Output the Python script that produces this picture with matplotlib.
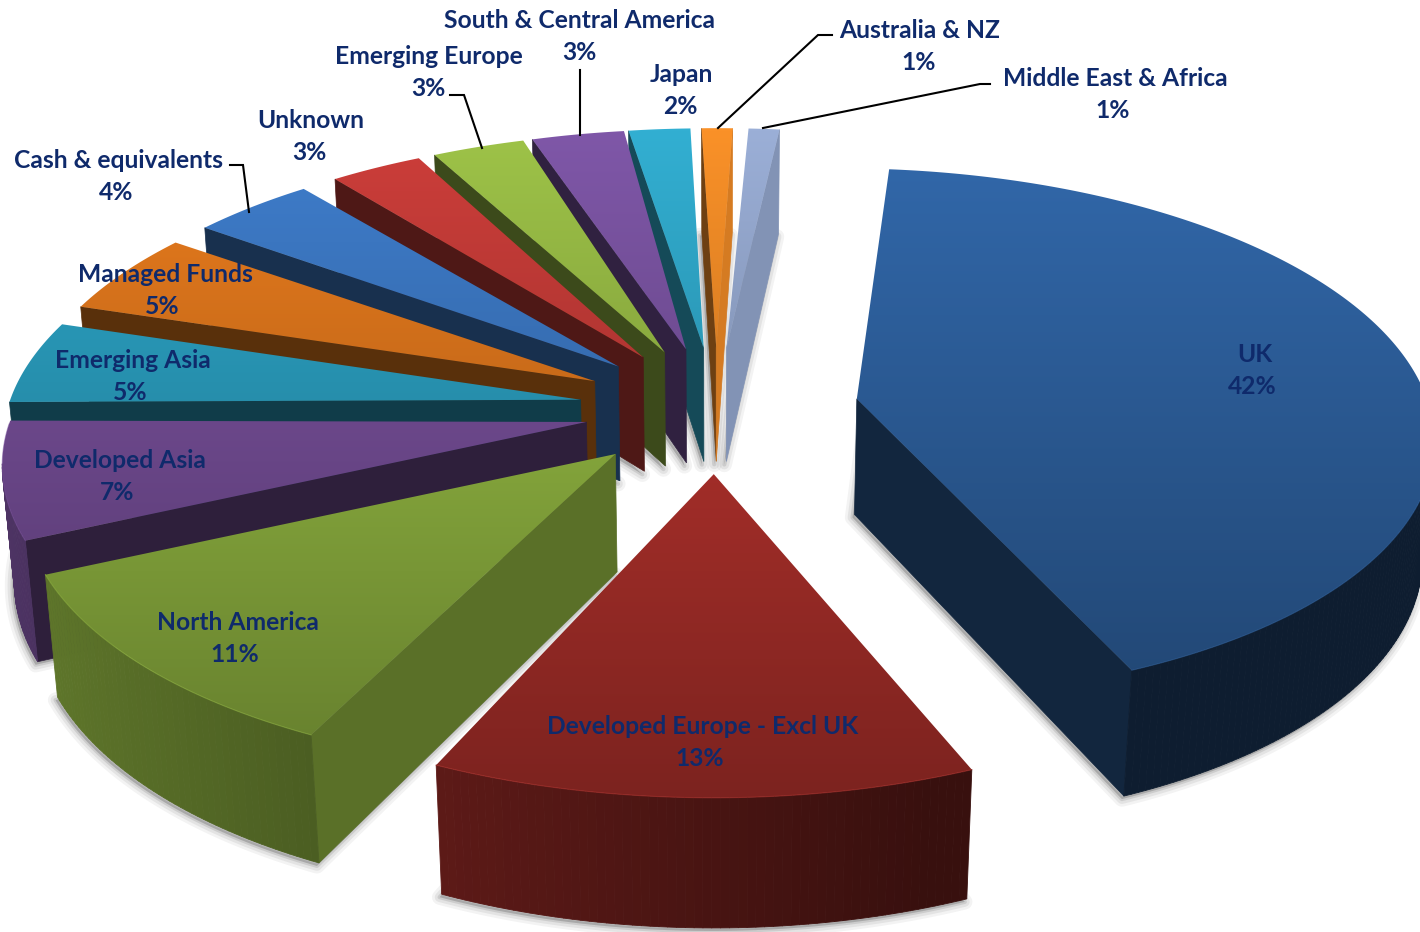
import numpy as np
import matplotlib
matplotlib.use("Agg")
import matplotlib.pyplot as plt
from matplotlib.patches import Polygon
from matplotlib.collections import PolyCollection

# Regional allocation, clockwise from the top of the pie
regions = ["UK", "Developed Europe - Excl UK", "North America", "Developed Asia",
           "Emerging Asia", "Managed Funds", "Cash & equivalents", "Unknown",
           "Emerging Europe", "South & Central America", "Japan", "Australia & NZ",
           "Middle East & Africa"]
shares = [42, 13, 11, 7, 5, 5, 4, 3, 3, 3, 2, 1, 1]

# Face colours at the top of the canvas; they darken further down the page
face_rgb = [(50, 105, 172), (200, 56, 50), (160, 200, 72), (128, 85, 165),
            (45, 168, 203), (235, 125, 30), (63, 126, 205), (205, 62, 58),
            (158, 195, 72), (127, 87, 168), (50, 175, 210), (250, 145, 40),
            (155, 175, 215)]
start_wall_shade = [.38, .38, .56, .36, .36, .38, .38, .38, .38, .38, .42, .44, .42]
end_wall_shade = [.36, .36, .36, .36, .36, .36, .36, .36, .36, .36, .36, .85, .84]

# Per-slice pull-out and small angular spread between the exploded wedges
explode = [.25, .24, .24, .23, .24, .24, .24, .24, .24, .24, .24, .24, .24]
spread_deg = [0, 0.8, 2.4, 2.0, 1.2, 1.3, 2.0, 3.0, 2.5, 1.3, 0, 0, 0.8]

# Label centres: name line and value line
name_xy = [(1255, 354), (703, 727), (238, 623), (120, 461), (133, 360), (165, 274),
           (119, 161), (311, 121), (429, 56), (580, 21), (681, 74), (920, 30), (1115, 78)]
value_xy = [(1252, 386), (700, 759), (235, 655), (117, 493), (130, 392), (162, 306),
            (116, 193), (309, 153), (428, 88), (579, 53), (680, 106), (919, 62), (1113, 110)]

# Elbow leaders from outside labels to their slices
leaders = [((230, 243, 249), (165, 165, 212)),
           ((450, 464, 482), (95, 95, 148)),
           ((580, 580), (70, 135)),
           ((832, 818, 718), (35, 35, 128)),
           ((990, 980, 763), (84, 84, 128))]

# Camera and pie geometry
W, H = 1420, 932
CX, CY = 716, 409
SCALE_X, SCALE_Y = 573, 263
PERSPECTIVE, DEPTH_PERSPECTIVE = 0.13, 0.017
THICKNESS = 118
START_DEG = 5.5
CAM_V = 1 / PERSPECTIVE
LABEL_COLOR = "#0F2A6B"


def project(u, v, z=0.0):
    u, v = np.asarray(u, float), np.asarray(v, float)
    p = 1 / (1 - PERSPECTIVE * v + DEPTH_PERSPECTIVE * z)
    return CX + SCALE_X * u * p, CY + (SCALE_Y * v + THICKNESS * z) * p


def page_shade(y):
    return 1 - 0.38 * (np.asarray(y, float) - 130) / 670


def rgb(base, k):
    return tuple(np.clip(np.array(base) * k / 255, 0, 1))


fig = plt.figure(figsize=(W / 100, H / 100), dpi=100)
ax = fig.add_axes([0, 0, 1, 1])

edges = np.radians(START_DEG + 3.6 * np.concatenate([[0], np.cumsum(shares)]))
slices = []
for i in range(len(shares)):
    nudge = np.radians(spread_deg[i])
    t0, t1 = edges[i] + nudge, edges[i + 1] + nudge
    mid = (t0 + t1) / 2
    ou, ov = explode[i] * np.sin(mid), -explode[i] * np.cos(mid)
    th = np.linspace(t0, t1, max(int(np.degrees(t1 - t0) / 0.75), 3) + 1)
    au, av = ou + np.sin(th), ov - np.cos(th)
    slices.append(dict(i=i, t0=t0, t1=t1, ou=ou, ov=ov, th=th, au=au, av=av,
                       depth=ov - 0.6 * np.cos(mid)))
slices.sort(key=lambda s: s["depth"])

# Soft shadow under the whole pie
for s in slices:
    bu = np.r_[s["ou"], s["au"]]
    bv = np.r_[s["ov"], s["av"]]
    bx, by = project(bu, bv, 1.0)
    for lw, a in ((11, .07), (7, .10), (3, .16)):
        ax.add_patch(Polygon(np.c_[bx - 2, by + 3], closed=True, fc=(.35, .35, .35, a),
                             ec=(.35, .35, .35, a), lw=lw, joinstyle="round", zorder=1))

gradient_y = np.linspace(0, H, 466)
z = 10
for s in slices:
    base = face_rgb[s["i"]]
    ou, ov = s["ou"], s["ov"]

    # Radial walls, only where they turn towards the camera
    for t, sign, shade in ((s["t0"], -1, start_wall_shade[s["i"]]),
                           (s["t1"], 1, end_wall_shade[s["i"]])):
        nu, nv = sign * np.cos(t), sign * np.sin(t)
        if nu * (0 - ou) + nv * (CAM_V - ov) > 0:
            eu, ev = ou + np.sin(t), ov - np.cos(t)
            x0, y0 = project([ou, eu], [ov, ev], 0.0)
            x1, y1 = project([eu, ou], [ev, ov], 1.0)
            pts = np.c_[np.r_[x0, x1], np.r_[y0, y1]]
            c = rgb(base, shade)
            ax.add_patch(Polygon(pts, closed=True, fc=c, ec=c, lw=.5, zorder=z))
            z += 1

    # Outer rim, brighter towards the left
    quads, cols = [], []
    th, au, av = s["th"], s["au"], s["av"]
    for k in range(len(th) - 1):
        tm = (th[k] + th[k + 1]) / 2
        nu, nv = np.sin(tm), -np.cos(tm)
        mu, mv = (au[k] + au[k + 1]) / 2, (av[k] + av[k + 1]) / 2
        if nu * (0 - mu) + nv * (CAM_V - mv) <= 0:
            continue
        x0, y0 = project(au[k:k + 2], av[k:k + 2], 0.0)
        x1, y1 = project(au[k:k + 2][::-1], av[k:k + 2][::-1], 1.0)
        quads.append(np.c_[np.r_[x0, x1], np.r_[y0, y1]])
        cols.append(rgb(base, max(0.36 - 0.25 * nu, 0.28)))
    if quads:
        ax.add_collection(PolyCollection(quads, facecolors=cols, edgecolors=cols,
                                         linewidths=.6, zorder=z))
        z += 1

    # Top face with a page-wide vertical gradient, clipped to the wedge
    tx, ty = project(np.r_[ou, au], np.r_[ov, av], 0.0)
    clip = Polygon(np.c_[tx, ty], closed=True, transform=ax.transData)
    grad = np.stack([np.clip(page_shade(gradient_y) * c / 255, 0, 1) for c in base], axis=1)[:, None, :]
    im = ax.imshow(grad, extent=(0, W, H, 0), aspect="auto", interpolation="bilinear", zorder=z)
    im.set_clip_path(clip)
    z += 1

    # Pale highlight along the camera-facing part of the rim
    front = np.cos(th) < 0
    if front.any():
        ax.plot(tx[1:][front], ty[1:][front], color=rgb(base, .95), lw=.8, alpha=.45, zorder=z)
        z += 1

# Labels and leaders sit above every slice
for xs, ys in leaders:
    ax.plot(xs, ys, color="black", lw=1.5, solid_joinstyle="miter", zorder=z)
font = dict(family="Lato", weight="bold", size=17.7, color=LABEL_COLOR,
            ha="center", va="center", zorder=z + 1)
for name, value, nxy, vxy in zip(regions, shares, name_xy, value_xy):
    ax.text(*nxy, name, **font)
    ax.text(*vxy, f"{value}%", **font)

ax.set_xlim(0, W)
ax.set_ylim(H, 0)
ax.axis("off")
fig.savefig("out.png", dpi=100, facecolor="white")
